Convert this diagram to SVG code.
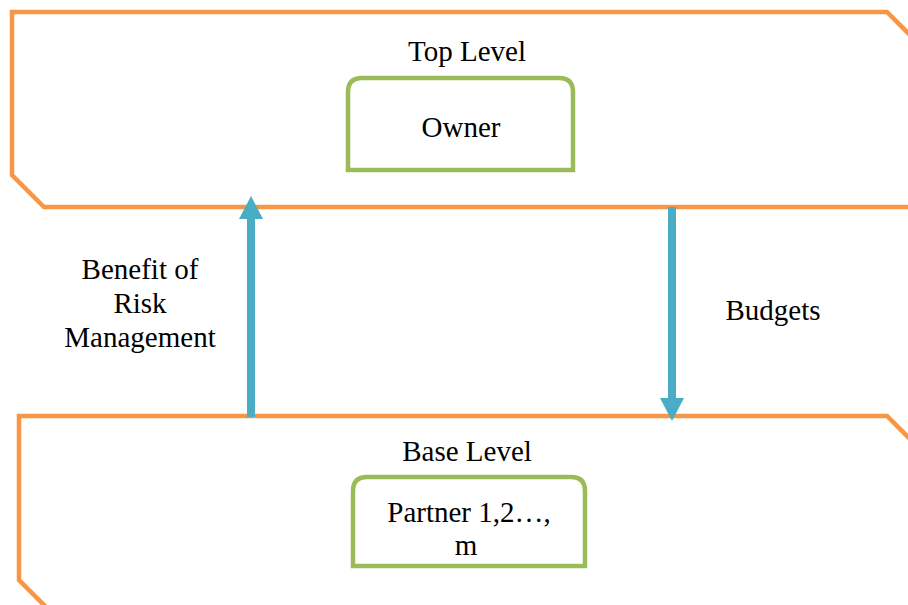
<svg xmlns="http://www.w3.org/2000/svg" width="908" height="605" viewBox="0 0 908 605">
<style>
.frame{fill:none;stroke:#F79646;stroke-width:4.5;stroke-linejoin:miter}
.box{fill:#fff;stroke:#9BBB59;stroke-width:4.5}
.arr{stroke:#4BACC6;stroke-width:8;fill:none}
.head{fill:#4BACC6}
text{font-family:"Liberation Serif","Times New Roman",serif;font-size:29px;fill:#000;text-anchor:middle}
</style>
<rect width="908" height="605" fill="#fff"/>
<g id="top-level">
<path class="frame" d="M920,45 L887,12 L12,12 L12,175 L44,207 L920,207"/>
<text x="467" y="61">Top Level</text>
</g>
<g id="owner">
<path class="box" d="M348,170 L348,92 Q348,78 362,78 L559,78 Q573,78 573,92 L573,170 Z"/>
<text x="461" y="137">Owner</text>
</g>
<g id="base-level">
<path class="frame" d="M920,449 L887,416 L19,416 L19,580 L48,609"/>
<text x="467" y="461">Base Level</text>
</g>
<g id="partner">
<path class="box" d="M353,566 L353,491 Q353,477 367,477 L571,477 Q585,477 585,491 L585,566 Z"/>
<text x="469" y="522">Partner 1,2…,</text>
<text x="466" y="555">m</text>
</g>
<g id="labels">
<text x="140" y="279">Benefit of</text>
<text x="140" y="313">Risk</text>
<text x="140" y="347">Management</text>
<text x="773" y="320">Budgets</text>
</g>
<g id="connectors">
<line class="arr" x1="251" y1="417" x2="251" y2="216"/>
<polygon class="head" points="251,196 263,219 239,219"/>
<line class="arr" x1="672" y1="207" x2="672" y2="401"/>
<polygon class="head" points="672,421 684,398 660,398"/>
</g>
</svg>
